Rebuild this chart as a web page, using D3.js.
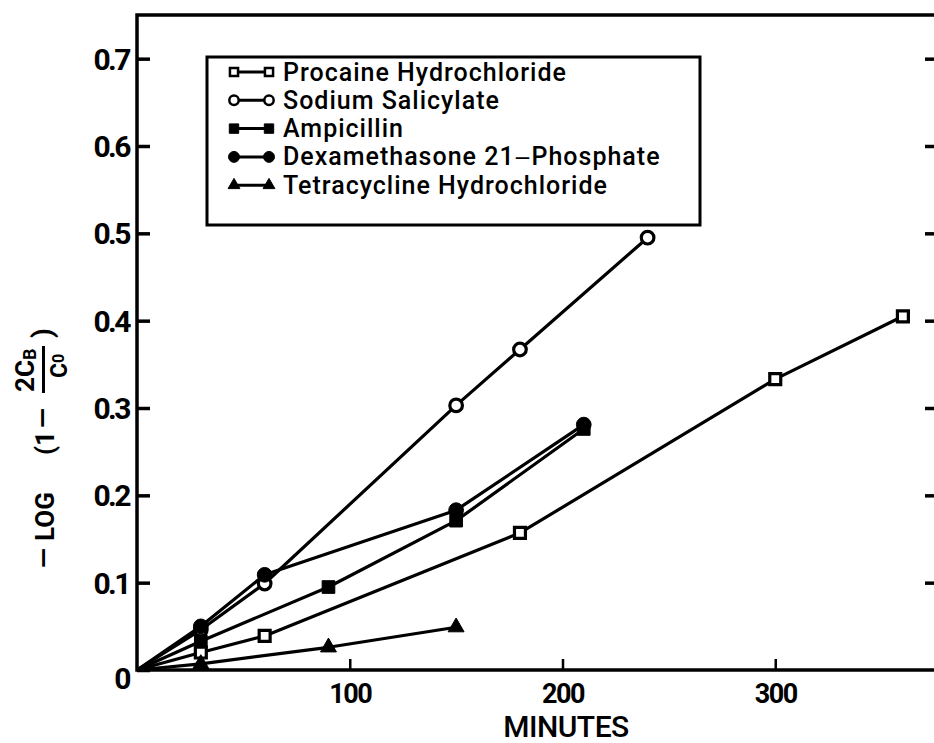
<!DOCTYPE html>
<html>
<head>
<meta charset="utf-8">
<script src="https://cdn.jsdelivr.net/npm/d3@7"></script>
<style>
  html, body { margin: 0; padding: 0; background: #fff; }
  svg { display: block; font-family: Roboto, "DejaVu Sans", sans-serif; }
</style>
</head>
<body>
<svg width="934" height="743"></svg>
<script>
// series: minutes and -log(1 - 2Cb/C0)
const procaineMin = [0, 30, 60, 180, 300, 360];
const procaineVal = [0, 0.02, 0.039, 0.157, 0.333, 0.405];
const salicylateMin = [0, 30, 60, 150, 180, 240];
const salicylateVal = [0, 0.046, 0.099, 0.303, 0.367, 0.495];
const ampicillinMin = [0, 30, 90, 150, 210];
const ampicillinVal = [0, 0.033, 0.095, 0.171, 0.276];
const dexaMin = [0, 30, 60, 150, 210];
const dexaVal = [0, 0.05, 0.109, 0.183, 0.281];
const tetraMin = [0, 30, 90, 150];
const tetraVal = [0, 0.007, 0.026, 0.049];

const seriesNames = [
  "Procaine Hydrochloride",
  "Sodium Salicylate",
  "Ampicillin",
  "Dexamethasone 21\u2012Phosphate",
  "Tetracycline Hydrochloride"
];
const xTicks = [100, 200, 300];
const yTicks = [0, 0.1, 0.2, 0.3, 0.4, 0.5, 0.6, 0.7];

const series = [
  { name: seriesNames[0], min: procaineMin, val: procaineVal, shape: d3.symbolSquare, open: true, size: 120 },
  { name: seriesNames[1], min: salicylateMin, val: salicylateVal, shape: d3.symbolCircle, open: true, size: 125 },
  { name: seriesNames[2], min: ampicillinMin, val: ampicillinVal, shape: d3.symbolSquare, open: false, size: 160 },
  { name: seriesNames[3], min: dexaMin, val: dexaVal, shape: d3.symbolCircle, open: false, size: 170 },
  { name: seriesNames[4], min: tetraMin, val: tetraVal, shape: d3.symbolTriangle, open: false, size: 110 }
];

function drawChart() {
  const svg = d3.select("svg");
  const left = 137, right = 938, top = 15, bottom = 670;

  const x = d3.scaleLinear().domain([0, 376.5]).range([left, right]);
  const y = d3.scaleLinear().domain([0, 0.75]).range([bottom, top]);

  // frame
  svg.append("rect")
    .attr("x", left).attr("y", top)
    .attr("width", right - left).attr("height", bottom - top)
    .attr("fill", "none").attr("stroke", "#000").attr("stroke-width", 3.5);

  // left axis, ticks inward
  const yAxis = svg.append("g")
    .attr("transform", `translate(${left},0)`)
    .call(d3.axisLeft(y).tickValues(yTicks).tickSize(-13).tickSizeOuter(0).tickPadding(8)
      .tickFormat(d => d === 0 ? "0" : d3.format(".1f")(d)));
  yAxis.select(".domain").remove();
  yAxis.selectAll("line").attr("stroke-width", 3.5);
  yAxis.selectAll("text")
    .attr("font-size", 30).attr("font-weight", "bold").attr("fill", "#000")
    .attr("font-family", "Roboto, sans-serif")
    .attr("letter-spacing", "-2.5px")
    .attr("dy", d => d === 0 ? "0.62em" : "0.35em");

  // right axis ticks only
  const yAxisR = svg.append("g")
    .attr("transform", `translate(${right},0)`)
    .call(d3.axisLeft(y).tickValues(yTicks.slice(1)).tickSize(13).tickSizeOuter(0).tickFormat(""));
  yAxisR.select(".domain").remove();
  yAxisR.selectAll("line").attr("stroke-width", 3.5);

  // bottom axis, ticks inward
  const xAxis = svg.append("g")
    .attr("transform", `translate(0,${bottom})`)
    .call(d3.axisBottom(x).tickValues(xTicks).tickSize(-11).tickSizeOuter(0).tickPadding(14));
  xAxis.select(".domain").remove();
  xAxis.selectAll("line").attr("stroke-width", 2.5);
  xAxis.selectAll("text")
    .attr("font-size", 27).attr("font-weight", "bold").attr("fill", "#000")
    .attr("font-family", "Roboto, sans-serif")
    .attr("letter-spacing", "-1.5px");

  // x title
  svg.append("text")
    .attr("x", 566).attr("y", 737)
    .attr("text-anchor", "middle")
    .attr("font-size", 30).attr("font-weight", 500)
    .attr("letter-spacing", "-0.5px")
    .text("MINUTES");

  // y title, rotated
  const yt = svg.append("g")
    .attr("transform", "translate(0,450) rotate(-90)")
    .attr("font-weight", "bold");
  yt.append("text").attr("x", -118).attr("y", 53).attr("font-size", "26px").text("\u2014");
  yt.append("text").attr("x", -91).attr("y", 54).attr("font-size", "26px").text("LOG");
  yt.append("text").attr("x", -5).attr("y", 54).attr("font-size", "26px").text("(1");
  yt.append("text").attr("x", 22).attr("y", 52).attr("font-size", "26px").text("\u2014");
  yt.append("line")
    .attr("x1", 57).attr("x2", 104).attr("y1", 43.5).attr("y2", 43.5)
    .attr("stroke", "#000").attr("stroke-width", 3);
  const num = yt.append("text").attr("x", 58).attr("y", 34).attr("font-size", "26px");
  num.append("tspan").text("2C");
  num.append("tspan").attr("font-size", "18px").attr("dy", 2).text("B");
  const den = yt.append("text").attr("x", 72).attr("y", 67).attr("font-size", "23px");
  den.append("tspan").text("C");
  den.append("tspan").attr("font-size", "16px").attr("dy", -3).text("0");
  yt.append("text").attr("x", 112).attr("y", 52).attr("font-size", "28px").text(")");

  // lines
  const line = d3.line().x(d => x(d[0])).y(d => y(d[1]));
  series.forEach(s => {
    const pts = s.min.map((m, i) => [m, s.val[i]]);
    svg.append("path")
      .datum(pts)
      .attr("d", line)
      .attr("fill", "none").attr("stroke", "#000")
      .attr("stroke-width", 3.2).attr("stroke-linejoin", "round");
  });

  // markers (skip the origin)
  series.forEach(s => {
    const pts = s.min.map((m, i) => [m, s.val[i]]).filter(d => d[0] > 0);
    svg.append("g").selectAll("path")
      .data(pts)
      .join("path")
      .attr("transform", d => `translate(${x(d[0])},${y(d[1])})`)
      .attr("d", d3.symbol().type(s.shape).size(s.size))
      .attr("fill", s.open ? "#fff" : "#000")
      .attr("stroke", "#000")
      .attr("stroke-width", s.open ? 3.2 : 1);
  });

  // legend
  const legend = svg.append("g");
  legend.append("rect")
    .attr("x", 207).attr("y", 57).attr("width", 493).attr("height", 168)
    .attr("fill", "#fff").attr("stroke", "#000").attr("stroke-width", 3);
  series.forEach((s, i) => {
    const cy = 72 + i * 28.3;
    const row = legend.append("g");
    row.append("line")
      .attr("x1", 234).attr("x2", 269).attr("y1", cy).attr("y2", cy)
      .attr("stroke", "#000").attr("stroke-width", 3);
    [234, 269].forEach(cx => {
      row.append("path")
        .attr("transform", `translate(${cx},${cy})`)
        .attr("d", d3.symbol().type(s.shape).size(s.size * 0.55))
        .attr("fill", s.open ? "#fff" : "#000")
        .attr("stroke", "#000")
        .attr("stroke-width", s.open ? 2.5 : 1);
    });
    row.append("text")
      .attr("x", 283).attr("y", cy + 8.5)
      .attr("font-size", "25px").attr("font-weight", 500)
      .attr("letter-spacing", "1px")
      .text(s.name);
  });
}

drawChart();
</script>
</body>
</html>
